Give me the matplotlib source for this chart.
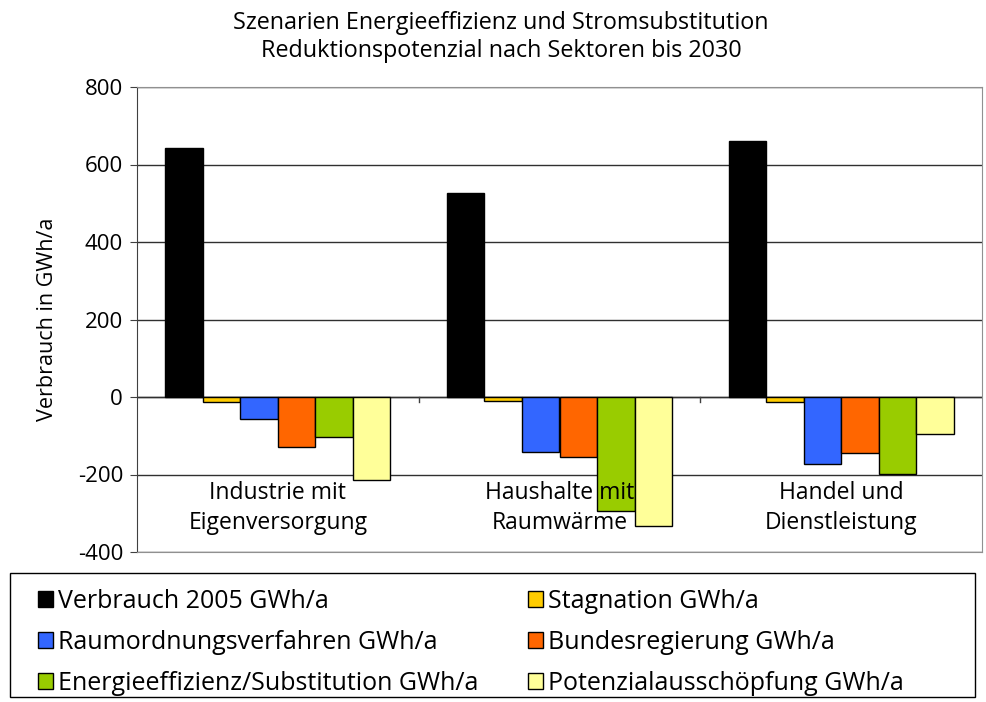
import matplotlib.pyplot as plt
from matplotlib.patches import Rectangle
import numpy as np

plt.rcParams['font.family'] = ['Open Sans', 'DejaVu Sans']
plt.rcParams['axes.unicode_minus'] = False

# Data
sectors = ['Industrie mit\nEigenversorgung', 'Haushalte mit\nRaumwärme', 'Handel und\nDienstleistung']
series = ['Verbrauch 2005 GWh/a', 'Stagnation GWh/a', 'Raumordnungsverfahren GWh/a',
          'Bundesregierung GWh/a', 'Energieeffizienz/Substitution GWh/a', 'Potenzialausschöpfung GWh/a']
verbrauch_2005 = [642, 526, 661]
stagnation = [-12, -10, -13]
raumordnung = [-57, -142, -173]
bundesregierung = [-130, -154, -144]
effizienz = [-103, -294, -198]
potenzial = [-213, -332, -96]
colors = ['#000000', '#FFCC00', '#3366FF', '#FF6600', '#99CC00', '#FFFF99']

values = [verbrauch_2005, stagnation, raumordnung, bundesregierung, effizienz, potenzial]

fig = plt.figure(figsize=(9.86, 7.02), dpi=100)
ax = fig.add_axes([137 / 986, 1 - 552 / 702, 845 / 986, 465 / 702])

x = np.arange(len(sectors))
width = 1 / 7.5
handles = []
for i, (vals, name, col) in enumerate(zip(values, series, colors)):
    pos = x - 0.4 + width * (i + 0.5)
    h = ax.bar(pos, vals, width, color=col, edgecolor='black', linewidth=1.0, label=name, zorder=3)
    handles.append(h)

ax.set_xlim(-0.5, 2.5)
ax.set_ylim(-400, 800)
ax.set_yticks(range(-400, 801, 200))
ax.yaxis.grid(True, color='#303030', linewidth=1.0, zorder=0)
ax.tick_params(axis='y', labelsize=16, length=5, direction='out', color='#404040', pad=5)
ax.set_xticks([])
ax.set_ylabel('Verbrauch in GWh/a', fontsize=15.5, labelpad=14)

for side in ['top', 'right', 'bottom']:
    ax.spines[side].set_color('#909090')
ax.spines['left'].set_color('#404040')

# category axis at y = 0 with boundary ticks
ax.axhline(0, color='#303030', linewidth=1.0, zorder=2)
for b in [0.5, 1.5]:
    ax.plot([b, b], [0, -12], color='#404040', linewidth=1.0, zorder=2)

for xi, s in zip(x, sectors):
    ax.text(xi, -218, s, ha='center', va='top', fontsize=16.5, linespacing=1.3, zorder=4)

fig.text(0.508, 0.985, 'Szenarien Energieeffizienz und Stromsubstitution\nReduktionspotenzial nach Sektoren bis 2030',
         ha='center', va='top', fontsize=16.8, linespacing=1.25)

# legend frame drawn separately so the columns can sit where they are in the original
fig.patches.append(Rectangle((10 / 986, 5 / 702), 965 / 986, 124 / 702, transform=fig.transFigure,
                             facecolor='none', edgecolor='black', linewidth=1.0))
order = [0, 2, 4, 1, 3, 5]
leg = fig.legend([handles[i] for i in order], [series[i] for i in order], ncol=2,
                 loc='upper left', bbox_to_anchor=(38 / 986, 1 - 589 / 702),
                 fontsize=18, frameon=False,
                 handlelength=0.6, handleheight=0.6, handletextpad=0.2,
                 labelspacing=0.64, borderaxespad=0, borderpad=0, columnspacing=2.0)

fig.savefig('out.png', dpi=100)
